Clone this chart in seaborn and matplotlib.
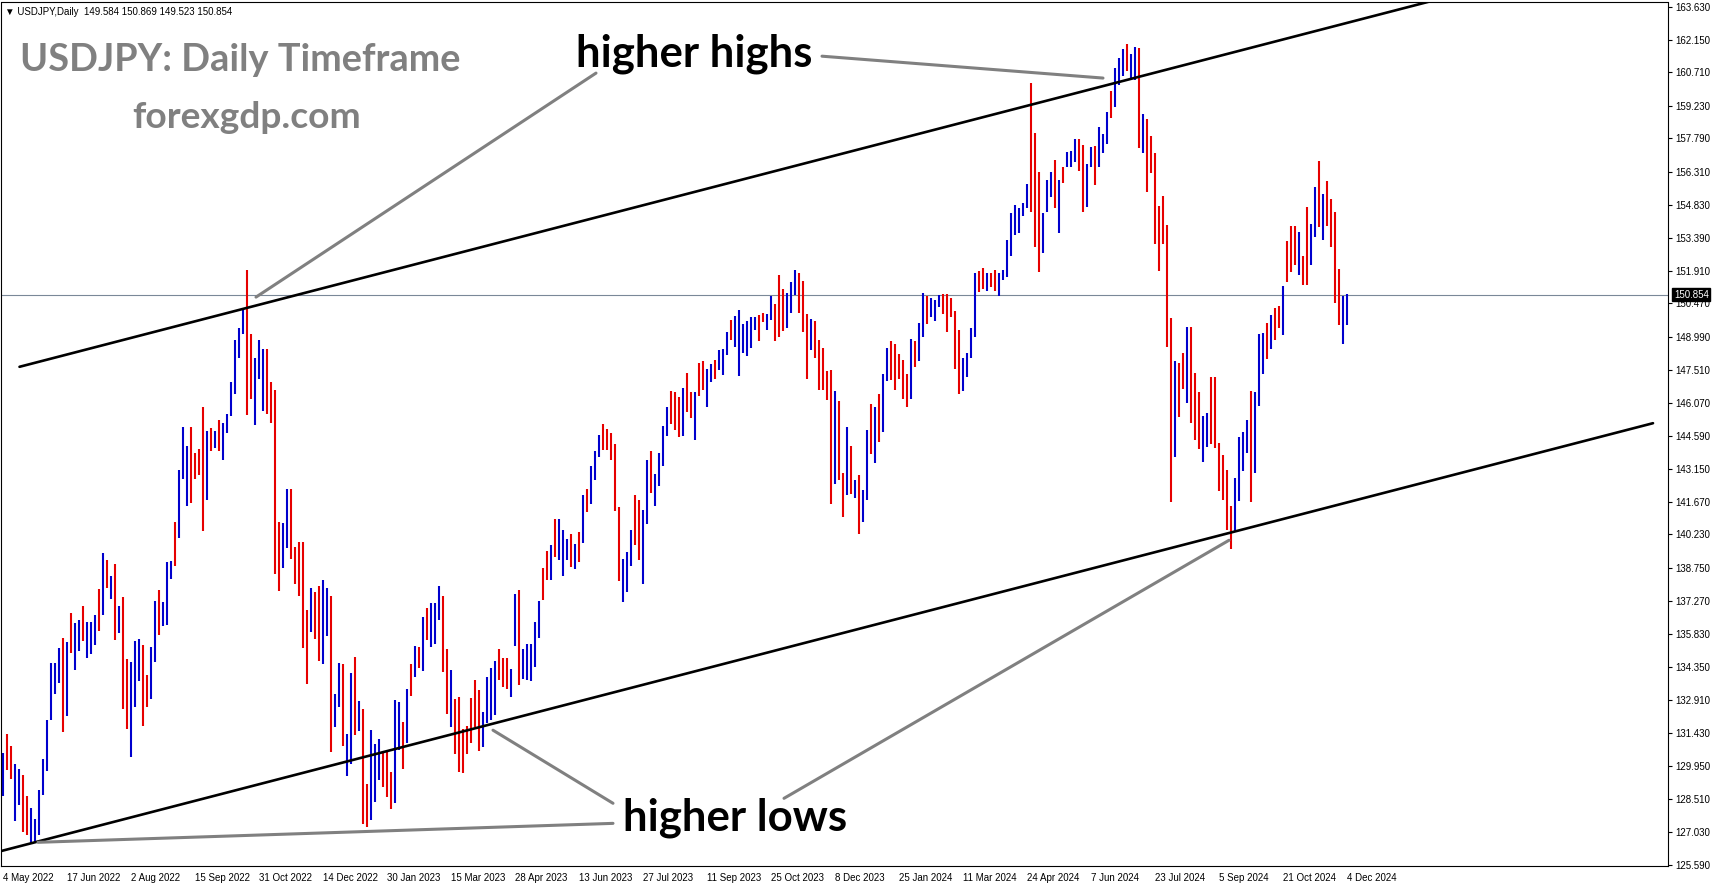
import numpy as np
import pandas as pd
import seaborn as sns
import matplotlib.pyplot as plt
from matplotlib.transforms import blended_transform_factory

# --- data: USDJPY daily, one bar kept per two sessions (4 May 2022 -> 4 Dec 2024) ---
bar_high = [
    130.55, 131.36, 130.84, 130.07, 129.82, 129.55, 128.63, 128.09, 127.63, 128.92,
    130.26, 132.01, 134.55, 134.55, 135.20, 135.65, 135.45, 136.74, 136.32, 136.42,
    137.05, 136.36, 136.36, 136.67, 137.82, 139.40, 139.11, 138.40, 138.92, 137.05,
    137.47, 134.69, 134.59, 135.51, 135.59, 135.32, 134.01, 135.26, 137.28, 137.76,
    137.24, 139.01, 139.05, 140.78, 143.09, 145.01, 144.17, 144.97, 143.82, 144.01,
    145.90, 144.82, 144.94, 144.82, 145.32, 145.17, 145.55, 146.99, 148.86, 149.40,
    150.26, 151.94, 149.11, 148.05, 148.86, 148.44, 148.44, 146.99, 146.61, 140.78,
    140.74, 142.24, 142.26, 139.68, 139.91, 139.91, 136.88, 137.85, 137.67, 137.93,
    138.19, 137.85, 137.49, 133.15, 134.51, 134.48, 131.39, 134.07, 134.78, 132.85,
    132.50, 129.16, 131.57, 130.92, 131.15, 130.65, 130.57, 129.69, 132.90, 132.79,
    131.92, 133.37, 134.48, 135.30, 135.25, 136.58, 136.97, 137.18, 137.18, 137.93,
    137.49, 135.13, 134.20, 132.93, 133.02, 131.62, 131.74, 132.97, 133.77, 133.32,
    132.37, 133.90, 134.30, 134.60, 135.13, 134.77, 134.77, 134.25, 137.58, 137.76,
    135.13, 135.35, 135.35, 136.35, 137.28, 138.76, 139.51, 139.74, 140.91, 140.91,
    140.44, 140.03, 140.27, 139.82, 140.34, 141.97, 142.26, 143.25, 143.93, 144.63,
    145.12, 144.92, 144.73, 144.23, 141.45, 139.16, 139.45, 140.44, 141.97, 141.75,
    141.33, 143.55, 143.93, 142.92, 143.84, 145.03, 145.88, 146.59, 146.55, 146.30,
    146.70, 147.39, 146.55, 146.55, 147.84, 147.92, 147.58, 147.77, 147.98, 148.40,
    148.47, 149.21, 149.73, 149.90, 150.17, 149.55, 149.71, 149.88, 149.85, 149.95,
    150.05, 149.99, 150.79, 150.44, 151.72, 151.09, 150.94, 151.43, 151.94, 151.80,
    151.47, 149.99, 149.76, 149.70, 148.84, 148.51, 147.48, 147.51, 146.59, 146.15,
    142.96, 144.97, 144.14, 142.66, 142.85, 142.22, 144.88, 146.00, 145.88, 146.45,
    147.33, 148.51, 148.81, 148.69, 148.22, 147.95, 147.33, 148.91, 148.81, 149.58,
    150.91, 150.79, 150.69, 150.64, 150.84, 150.88, 150.88, 150.69, 150.14, 149.31,
    148.07, 148.25, 149.36, 151.83, 151.91, 152.02, 151.83, 151.83, 151.97, 151.83,
    151.94, 153.30, 154.49, 154.83, 154.72, 154.90, 155.76, 160.25, 158.03, 156.29,
    154.46, 155.96, 156.31, 156.82, 155.93, 156.53, 157.19, 157.24, 157.78, 157.74,
    157.49, 156.67, 157.41, 157.44, 158.27, 158.00, 158.97, 159.90, 160.89, 161.33,
    161.77, 161.97, 161.53, 161.84, 161.81, 158.88, 158.63, 157.87, 157.15, 154.78,
    155.21, 153.94, 149.82, 147.91, 147.83, 148.25, 149.44, 149.41, 147.38, 146.54,
    145.47, 145.59, 147.22, 147.22, 144.28, 143.76, 143.10, 141.50, 142.72, 144.55,
    144.78, 145.29, 146.57, 146.54, 149.13, 149.16, 149.59, 149.97, 150.28, 150.36,
    151.24, 153.23, 153.90, 153.90, 153.64, 152.57, 154.75, 153.99, 155.62, 156.80,
    155.32, 155.88, 155.09, 154.53, 151.98, 150.79, 150.87,
]
bar_low = [
    128.63, 129.78, 129.40, 127.51, 128.24, 127.05, 126.90, 126.51, 126.55, 126.90,
    128.67, 129.74, 132.00, 133.15, 133.63, 131.47, 132.19, 134.97, 134.24, 135.07,
    135.51, 134.74, 134.94, 135.32, 135.94, 136.67, 137.86, 137.38, 135.55, 135.84,
    132.47, 131.61, 130.36, 132.57, 133.72, 131.74, 132.57, 132.95, 134.59, 135.78,
    136.17, 136.23, 138.24, 138.82, 140.07, 142.67, 141.51, 141.61, 142.67, 142.86,
    140.36, 141.74, 143.92, 144.05, 143.92, 143.53, 144.74, 145.46, 146.47, 148.05,
    149.11, 145.51, 146.22, 145.07, 147.13, 145.71, 145.55, 145.17, 138.47, 137.71,
    138.72, 139.63, 139.16, 138.02, 137.49, 135.21, 133.60, 135.91, 135.60, 134.60,
    134.47, 135.74, 130.57, 131.67, 132.58, 130.83, 129.52, 130.04, 131.32, 131.53,
    127.41, 127.24, 127.59, 128.38, 129.34, 129.04, 128.59, 128.06, 128.34, 130.66,
    129.81, 131.00, 133.08, 133.90, 134.30, 134.16, 135.53, 135.25, 135.35, 136.44,
    134.13, 132.27, 131.67, 130.48, 129.69, 129.64, 130.48, 130.97, 131.67, 130.65,
    130.79, 131.85, 132.02, 132.23, 133.78, 133.46, 133.37, 133.02, 135.30, 133.55,
    133.81, 133.78, 133.72, 134.37, 135.65, 137.32, 138.23, 138.19, 139.25, 139.11,
    138.40, 139.11, 138.79, 138.71, 139.01, 139.85, 141.22, 141.60, 142.66, 143.67,
    143.99, 143.96, 143.52, 141.27, 138.17, 137.24, 137.68, 138.82, 139.75, 139.11,
    138.05, 140.68, 142.07, 141.48, 142.37, 143.25, 144.58, 145.12, 144.88, 144.55,
    144.58, 145.66, 145.37, 144.41, 146.36, 146.62, 145.88, 146.99, 147.14, 147.51,
    147.29, 148.18, 148.87, 148.54, 147.24, 148.28, 148.13, 148.51, 149.31, 148.81,
    149.65, 149.28, 149.73, 148.81, 148.99, 149.25, 149.36, 150.05, 150.84, 150.05,
    149.21, 147.14, 148.40, 148.07, 146.65, 146.62, 146.21, 141.60, 142.45, 142.66,
    140.98, 141.97, 142.04, 141.86, 140.27, 140.78, 141.75, 143.78, 143.40, 144.33,
    144.77, 147.04, 147.07, 146.65, 147.10, 146.25, 145.88, 146.25, 147.63, 147.92,
    148.96, 149.55, 149.85, 149.70, 150.29, 150.02, 149.21, 149.85, 147.58, 146.45,
    146.59, 147.21, 148.03, 148.99, 150.98, 151.09, 151.03, 151.18, 151.03, 150.79,
    151.53, 151.65, 152.57, 153.50, 153.57, 154.34, 154.68, 154.53, 152.98, 151.87,
    152.71, 154.53, 155.20, 154.68, 153.60, 155.79, 156.53, 156.53, 156.75, 156.35,
    154.53, 154.75, 156.53, 155.71, 156.50, 157.15, 157.53, 158.71, 159.16, 160.15,
    160.55, 160.78, 160.40, 160.36, 157.38, 157.15, 155.40, 156.23, 153.10, 151.91,
    153.10, 148.52, 141.68, 143.64, 145.44, 146.69, 146.05, 145.16, 144.43, 144.02,
    143.45, 144.12, 144.25, 144.06, 142.14, 141.77, 140.43, 139.59, 140.40, 141.73,
    143.03, 143.82, 141.65, 142.95, 145.93, 147.33, 147.99, 148.45, 148.86, 149.36,
    149.06, 151.42, 151.85, 152.16, 151.73, 151.30, 151.30, 152.16, 153.41, 153.87,
    153.29, 153.90, 152.98, 150.47, 149.51, 148.66, 149.52,
]
# b = bullish bar (blue), r = bearish bar (red)
bar_dir = (
    "brrbbrrbbb" "bbbbbrbrbb" "rbbbrbrbrb" "rrbbbrrbbr" "bbbrbbbrrr"
    "rbrbrbbbbb" "brrbbbrrrr" "bbrrrrrbrr" "bbrbbrbbrb" "rrbbbrrrbb"
    "rbrbrbrbbb" "rrbrrrrrrr" "bbbbrrrbbr" "bbbbbrrbrb" "bbrbrbrbbb"
    "rrrrrbbbrr" "bbrbbbbrrr" "brrbrrbbrb" "bbrbbbbbbr" "rbbrrrbbbr"
    "rrbrrrrrbr" "rbrbrbbrbr" "bbrrrrrbrb" "brbbbrrrrr" "bbbbrrbrrb"
    "bbbbbbbrrr" "bbbrbrbbbr" "rbbrbbbrbb" "brbbrbrrrr" "rrrbrrbrrr"
    "bbrrrrrrbb" "bbrbbbrbrr" "brrrbrrbbr" "brrrrbb"
)

date_labels = [
    "4 May 2022", "17 Jun 2022", "2 Aug 2022", "15 Sep 2022", "31 Oct 2022",
    "14 Dec 2022", "30 Jan 2023", "15 Mar 2023", "28 Apr 2023", "13 Jun 2023",
    "27 Jul 2023", "11 Sep 2023", "25 Oct 2023", "8 Dec 2023", "25 Jan 2024",
    "11 Mar 2024", "24 Apr 2024", "7 Jun 2024", "23 Jul 2024", "5 Sep 2024",
    "21 Oct 2024", "4 Dec 2024",
]
price_ticks = [
    163.630, 162.150, 160.710, 159.230, 157.790, 156.310, 154.830, 153.390, 151.910,
    150.470, 148.990, 147.510, 146.070, 144.590, 143.150, 141.670, 140.230, 138.750,
    137.270, 135.830, 134.350, 132.910, 131.430, 129.950, 128.510, 127.030, 125.590,
]
last_bar = "USDJPY,Daily  149.584 150.869 149.523 150.854"
last_price = 150.854

# trend lines: (session index, price) anchor pairs
upper_channel = ([8.4, 715.0], [147.66, 163.89])
lower_channel = ([-1.35, 825.15], [126.18, 145.16])
pointer_lines = [
    ([126.65, 296.65], [150.75, 160.68]),   # higher highs, left
    ([409.65, 550.15], [161.43, 160.46]),   # higher highs, right
    ([245.15, 305.15], [131.55, 128.31]),   # higher lows, middle
    ([17.65, 305.15], [126.58, 127.42]),    # higher lows, flat
    ([390.65, 613.15], [128.53, 139.97]),   # higher lows, right
]

W, H = 1714, 888
BLUE, RED = "#0000cd", "#e60000"

df = pd.DataFrame({"high": bar_high, "low": bar_low, "dir": list(bar_dir)})
df["session"] = np.arange(len(df)) * 2

sns.set_style("white")
plt.rcParams["font.family"] = ["Liberation Sans", "DejaVu Sans"]

fig = plt.figure(figsize=(W / 100, H / 100), dpi=100)
fig.patch.set_facecolor("white")
ax = fig.add_axes([1 / W, 22 / H, 1667 / W, 863.5 / H])
ax.set_facecolor("white")

ax.vlines(df["session"], df["low"], df["high"],
          colors=df["dir"].map({"b": BLUE, "r": RED}), linewidth=1.5)

ax.axhline(last_price, color="#7a8898", linewidth=0.8, zorder=1)

for xs, ys in [upper_channel, lower_channel]:
    sns.lineplot(x=xs, y=ys, ax=ax, color="black", linewidth=1.9,
                 sort=False, estimator=None)
for xs, ys in pointer_lines:
    sns.lineplot(x=xs, y=ys, ax=ax, color="#808080", linewidth=2.2,
                 sort=False, estimator=None)

ax.set_xlim(-0.85, 832.65)
ax.set_ylim(125.53, 163.81)
ax.set_xlabel("")
ax.set_ylabel("")

ax.yaxis.tick_right()
ax.set_yticks(price_ticks)
ax.set_yticklabels([f"{v:.3f}" for v in price_ticks])
ax.set_xticks(np.arange(len(date_labels)) * 32)
ax.set_xticklabels(date_labels, ha="left")
ax.tick_params(axis="both", direction="out", length=3, width=0.8,
               labelsize=7, pad=2, colors="black")
for s in ax.spines.values():
    s.set_visible(True)
    s.set_color("black")
    s.set_linewidth(0.8)

# current price tag on the axis
tr = blended_transform_factory(ax.transAxes, ax.transData)
ax.text(1.0035, last_price, f"{last_price:.3f}", transform=tr, ha="left",
        va="center", fontsize=7, color="white", zorder=5,
        bbox=dict(boxstyle="square,pad=0.15", fc="black", ec="black"))

# header line
fig.text(5 / W, 1 - 15 / H, "\u25bc " + last_bar, fontsize=7, color="black",
         ha="left", va="baseline")

renderer = fig.canvas.get_renderer()


def place(txt, x_left, baseline, width, **kw):
    t = fig.text(x_left / W, 1 - baseline / H, txt, ha="left", va="baseline", **kw)
    w = t.get_window_extent(renderer).width
    t.set_fontsize(t.get_fontsize() * width / w)
    return t


big = dict(family=["Lato", "DejaVu Sans"], weight="bold", fontsize=30)
place("USDJPY: Daily Timeframe", 20, 70.7, 440, color="#808080", **big)
place("forexgdp.com", 132, 128.3, 228, color="#808080", **big)
place("higher highs", 576, 66, 236, color="black", **big)
place("higher lows", 623, 830.7, 224, color="black", **big)

fig.savefig("out.png", dpi=100)
